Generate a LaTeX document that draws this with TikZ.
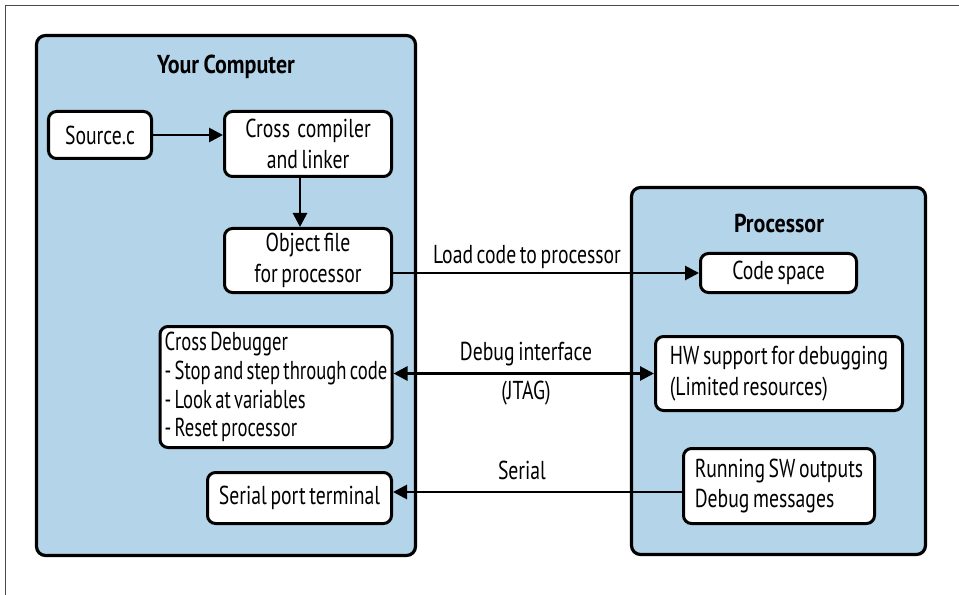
\documentclass[tikz,border=0pt]{standalone}
\usepackage{fontspec}
\setmainfont[FakeStretch=0.76, WordSpace=0.7]{PT Sans}
\newfontfamily\ttlfont[FakeStretch=0.85, WordSpace=0.8]{PT Sans}
\newfontfamily\dbgfont[FakeStretch=0.72, WordSpace=0.65]{PT Sans}
\usetikzlibrary{arrows.meta,calc,backgrounds}
\definecolor{panelblue}{HTML}{B4D4EA}
\definecolor{framegray}{HTML}{4A4A4A}
\newcommand{\fsz}{\fontsize{26}{31}\selectfont}
\newcommand{\bfsz}{\ttlfont\fontsize{26}{31}\selectfont\bfseries}
\newcommand{\dbgsz}{\dbgfont\fontsize{26}{29}\selectfont}
\begin{document}
\begin{tikzpicture}[x=1bp,y=-1bp,
  box/.style={draw=black, line width=3bp, fill=white, rounded corners=8bp,
    inner sep=0pt, font=\fsz, align=center},
  lbox/.style={box, align=left},
  panel/.style={draw=black, line width=3.2bp, fill=panelblue, rounded corners=9bp, inner sep=0pt},
  arr/.style={line width=2.8bp, -{Triangle[length=14bp,width=14bp]}},
  darr/.style={line width=2.8bp, {Triangle[length=14bp,width=14bp]}-{Triangle[length=14bp,width=14bp]}},
  lbl/.style={font=\fsz, inner sep=0pt},
  ttl/.style={font=\bfsz, inner sep=0pt}]
\useasboundingbox (0,0) rectangle (959,595);
\fill[white] (0,0) rectangle (959,595);
\draw[framegray, line width=1.4bp] (5.5,595) -- (5.5,5.5) -- (959,5.5);

% panels
\node[panel, minimum width=379bp, minimum height=520bp] (pc) at (226,295.5) {};
\node[panel, minimum width=294bp, minimum height=367bp] (cpu) at (778.5,371) {};

\begin{pgfonlayer}{background}
  \foreach \p in {pc,cpu}{
    \foreach \k in {-2,0,2,4,6}{
      \fill[black, opacity=0.09, rounded corners=9bp+\k bp]
        ($(\p.north west)+(4-\k,4-\k)$) rectangle ($(\p.south east)+(4+\k,4+\k)$);
    }
  }
\end{pgfonlayer}

% titles
\node[ttl] (pct) at (226,67) {Your Computer};
\node[ttl] (cput) at (779,223) {Processor};

% left boxes
\node[box, minimum width=103bp, minimum height=47bp] (src) at (100,135) {Source.c};
\node[box, minimum width=167bp, minimum height=65bp] (comp) at (308,144) {Cross\ \ compiler\\and linker};
\node[box, minimum width=167bp, minimum height=64bp] (obj) at (308,260.5) {Object file\\for processor};
\node[lbox, minimum width=232bp, minimum height=121bp, font=\dbgsz] (dbg) at (276,387)
  {Cross Debugger\\- Stop and step through code\\- Look at variables\\- Reset processor};
\node[box, minimum width=184bp, minimum height=51bp] (term) at (299.5,498) {Serial port terminal};

% right boxes
\node[box, minimum width=156bp, minimum height=39bp] (code) at (778.5,273) {Code space};
\node[lbox, minimum width=247bp, minimum height=74bp] (hw) at (779,373.5)
  {HW support for debugging\\(Limited resources)};
\node[lbox, minimum width=191bp, minimum height=75bp] (run) at (779,486)
  {Running SW outputs\\Debug messages};

% connectors
\draw[arr] (src.east) -- (src.east -| comp.west);
\draw[arr] ($(comp.south)+(-8,0)$) -- ($(obj.north)+(-8,0)$);
\draw[arr] (obj.east |- code.west) -- (code.west);
\draw[darr] (dbg.east |- hw.west) -- (hw.west);
\draw[arr] ($(run.west)+(0,6)$) -- ($(term.east)+(0,-6)$);

% labels
\node[lbl] (l1) at (527,257) {Load code to processor};
\node[lbl] (l2) at (526,354) {Debug interface};
\node[lbl] (l3) at (526,393) {(JTAG)};
\node[lbl] (l4) at (522,470) {Serial};
\end{tikzpicture}
\end{document}
